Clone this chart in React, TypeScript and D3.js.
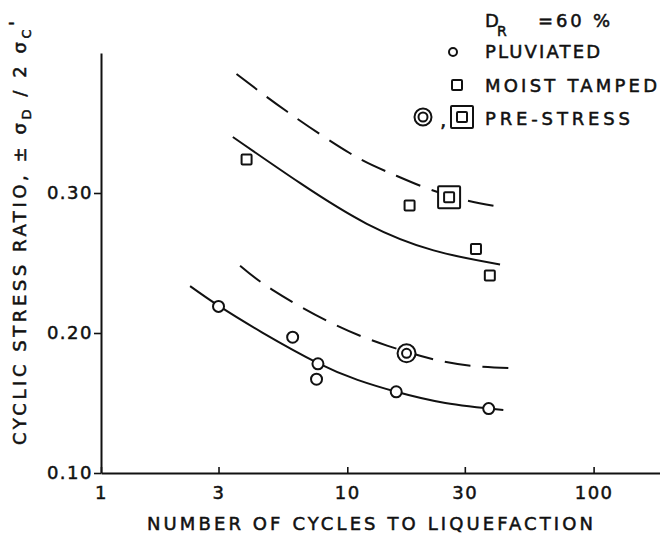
import * as d3 from "d3"
import { useEffect, useRef } from "react"

const xTicks = [1, 3, 10, 30, 100]
const yTicks = [0.1, 0.2, 0.3]

// test points
const pluviatedCycles = [3, 6, 7.6, 7.5, 15.8, 37.5]
const pluviatedRatio = [0.219, 0.197, 0.178, 0.167, 0.158, 0.146]
const moistCycles = [3.9, 17.9, 33.3, 37.9]
const moistRatio = [0.324, 0.291, 0.26, 0.241]
const preCycles = [17.4, 25.9]
const preRatio = [0.1855, 0.297]
const preKind = ["circle", "square"]

// hand drawn curves
const pluvCurveCycles = [2.3, 3, 4.5, 7.6, 11, 15.8, 25, 43]
const pluvCurveRatio = [0.2335, 0.2195, 0.2005, 0.1785, 0.1665, 0.158, 0.15, 0.145]
const pluvPreCycles = [3.67, 4.95, 8.65, 14.5, 24, 35, 46]
const pluvPreRatio = [0.248, 0.231, 0.207, 0.191, 0.18, 0.176, 0.175]
const moistCurveCycles = [3.43, 6.44, 12, 22.4, 41.7]
const moistCurveRatio = [0.34, 0.307, 0.278, 0.259, 0.249]
const moistPreCycles = [3.55, 5.71, 10.25, 14.68, 21, 30, 41.7]
const moistPreRatio = [0.385, 0.358, 0.3284, 0.3148, 0.3034, 0.295, 0.29]

const W = 660
const H = 535
const font = "'DejaVu Sans', sans-serif"
const ink = "#111"

export default function App() {
    const xAxisRef = useRef<SVGGElement>(null)
    const yAxisRef = useRef<SVGGElement>(null)

    const x = d3.scaleLog().domain([1, 100]).range([101, 593.6])
    x.domain([1, x.invert(W)]).range([101, W])
    const y = d3.scaleLinear().domain([0.1, 0.4]).range([473, 53])

    const line = d3
        .line<[number, number]>()
        .x((d) => x(d[0]))
        .y((d) => y(d[1]))
        .curve(d3.curveNatural)

    const pairs = (a: number[], b: number[]) => a.map((v, i) => [v, b[i]] as [number, number])

    useEffect(() => {
        if (!xAxisRef.current || !yAxisRef.current) return
        const gx = d3.select(xAxisRef.current)
        gx.selectAll("*").remove()
        gx.call(
            d3
                .axisBottom(x)
                .tickValues(xTicks)
                .tickFormat(d3.format("d"))
                .tickSizeInner(-6)
                .tickSizeOuter(0)
                .tickPadding(13),
        )
        const gy = d3.select(yAxisRef.current)
        gy.selectAll("*").remove()
        gy.call(
            d3
                .axisLeft(y)
                .tickValues(yTicks)
                .tickFormat(d3.format(".2f"))
                .tickSizeInner(7)
                .tickSizeOuter(0)
                .tickPadding(1),
        )
        for (const g of [gx, gy]) {
            g.attr("font-family", font).attr("font-size", 18)
            g.select(".domain").attr("stroke", ink).attr("stroke-width", 2)
            g.selectAll(".tick line").attr("stroke", ink).attr("stroke-width", 1.6)
            g.selectAll(".tick text")
                .attr("fill", ink)
                .attr("stroke", ink)
                .attr("stroke-width", 0.5)
                .attr("letter-spacing", 1.5)
        }
    }, [])

    return (
        <svg
            width={W}
            height={H}
            viewBox={`0 0 ${W} ${H}`}
            style={{ position: "absolute", left: 0, top: 0, background: "#fff" }}
        >
            <g ref={xAxisRef} transform={`translate(0,${y(0.1)})`} />
            <g ref={yAxisRef} transform={`translate(${x(1)},0)`} />

            {/* curves */}
            <g fill="none" stroke={ink} strokeWidth={2}>
                <path d={line(pairs(pluvCurveCycles, pluvCurveRatio)) ?? ""} />
                <path d={line(pairs(moistCurveCycles, moistCurveRatio)) ?? ""} />
                <path d={line(pairs(pluvPreCycles, pluvPreRatio)) ?? ""} strokeDasharray="26 12" />
                <path d={line(pairs(moistPreCycles, moistPreRatio)) ?? ""} strokeDasharray="26 12" />
            </g>

            {/* points */}
            <g fill="#fff" stroke={ink} strokeWidth={2}>
                {pluviatedCycles.map((n, i) => (
                    <circle key={"p" + i} cx={x(n)} cy={y(pluviatedRatio[i])} r={5.5} />
                ))}
                {moistCycles.map((n, i) => (
                    <rect key={"m" + i} x={x(n) - 5} y={y(moistRatio[i]) - 5} width={10} height={10} rx={1} />
                ))}
                {preCycles.map((n, i) =>
                    preKind[i] === "circle" ? (
                        <g key={"s" + i}>
                            <circle cx={x(n)} cy={y(preRatio[i])} r={9} />
                            <circle cx={x(n)} cy={y(preRatio[i])} r={4.5} />
                        </g>
                    ) : (
                        <g key={"s" + i}>
                            <rect x={x(n) - 11} y={y(preRatio[i]) - 11} width={22} height={22} rx={1} />
                            <rect x={x(n) - 5} y={y(preRatio[i]) - 5} width={10} height={10} rx={1} />
                        </g>
                    ),
                )}
            </g>

            {/* legend */}
            <g fontFamily={font} fontSize={18} fill={ink} stroke={ink} strokeWidth={0.5}>
                <text x={485} y={27}>D</text>
                <text x={497} y={36} fontSize={14}>R</text>
                <text x={538} y={27} textLength={72} lengthAdjust="spacing">=60 %</text>
                <text x={485} y={58} textLength={115} lengthAdjust="spacing">PLUVIATED</text>
                <text x={485} y={92} textLength={172} lengthAdjust="spacing">MOIST TAMPED</text>
                <text x={485} y={125} textLength={145} lengthAdjust="spacing">PRE-STRESS</text>
                <text x={440} y={127} fontSize={20}>,</text>
            </g>
            <g fill="#fff" stroke={ink} strokeWidth={2}>
                <circle cx={453} cy={52} r={4} />
                <rect x={452} y={80} width={10} height={10} rx={1} />
                <circle cx={423} cy={117} r={8.5} />
                <circle cx={423} cy={117} r={4.5} />
                <rect x={451} y={106} width={22} height={22} rx={1} />
                <rect x={457} y={112} width={10} height={10} rx={1} />
            </g>

            {/* axis titles */}
            <g fontFamily={font} fontSize={18} fill={ink} stroke={ink} strokeWidth={0.5}>
                <text x={370} y={530} textAnchor="middle" textLength={446} lengthAdjust="spacing">
                    NUMBER OF CYCLES TO LIQUEFACTION
                </text>
                <text transform="translate(26,445) rotate(-90)" textLength={424} lengthAdjust="spacing">
                    {"CYCLIC STRESS RATIO, ± σ"}
                    <tspan dy={5} fontSize={13}>D</tspan>
                    <tspan dy={-5}>{" / 2 σ"}</tspan>
                    <tspan dy={5} fontSize={13}>C</tspan>
                    <tspan dy={-9}>'</tspan>
                </text>
            </g>
        </svg>
    )
}
